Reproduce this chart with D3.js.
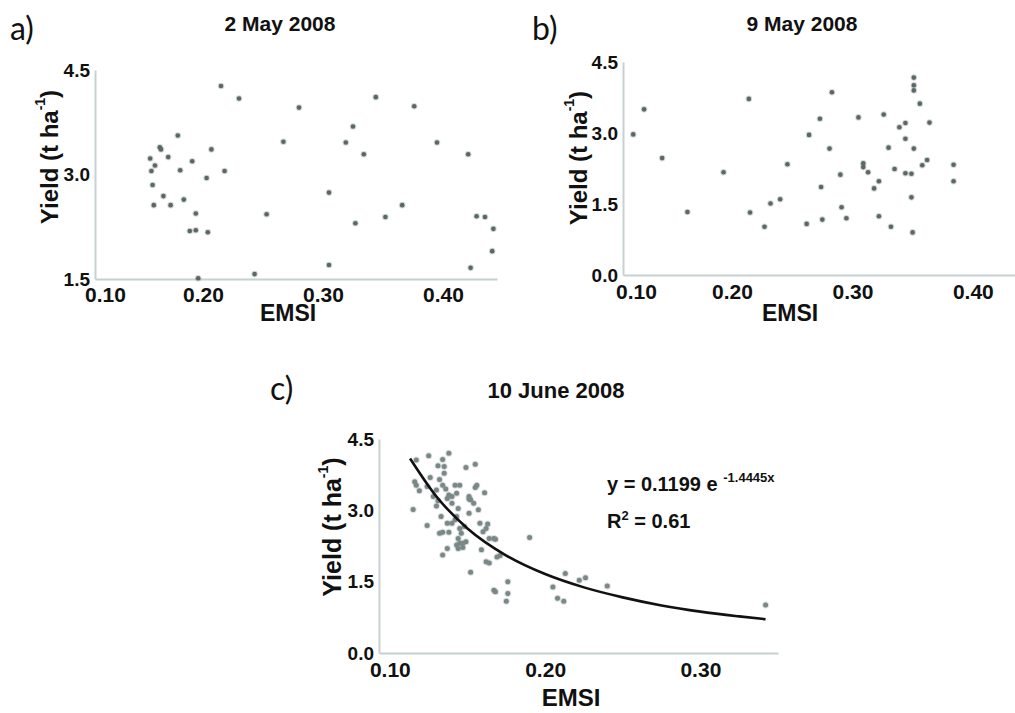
<!DOCTYPE html>
<html>
<head>
<meta charset="utf-8">
<script src="https://cdn.jsdelivr.net/npm/d3@7"></script>
<style>
  body { margin: 0; background: #fff; }
  svg { display: block; }
  text { font-family: "Liberation Sans", Arial, sans-serif; font-weight: bold; fill: #111; }
  .letter { font-family: Lato, "Open Sans", sans-serif; font-weight: normal; }
</style>
</head>
<body>
<svg id="chart" width="1015" height="713"></svg>
<script>
// panel a: 2 May 2008
const aEmsi = [0.215, 0.230, 0.280, 0.344, 0.376, 0.179, 0.164, 0.165, 0.207, 0.267, 0.319, 0.325, 0.395, 0.334, 0.421,
  0.156, 0.171, 0.160, 0.157, 0.181, 0.191, 0.203, 0.218, 0.158, 0.167, 0.159, 0.173, 0.184, 0.194, 0.253,
  0.305, 0.366, 0.327, 0.352, 0.428, 0.435, 0.442, 0.441, 0.189, 0.194, 0.204, 0.305, 0.423, 0.243, 0.196];
const aYield = [4.27, 4.09, 3.96, 4.11, 3.98, 3.56, 3.39, 3.36, 3.36, 3.47, 3.46, 3.69, 3.46, 3.29, 3.29,
  3.23, 3.25, 3.13, 3.05, 3.06, 3.19, 2.95, 3.05, 2.85, 2.69, 2.56, 2.56, 2.64, 2.44, 2.43,
  2.74, 2.56, 2.30, 2.39, 2.40, 2.39, 2.22, 1.90, 2.19, 2.20, 2.17, 1.70, 1.66, 1.57, 1.51];

// panel b: 9 May 2008
const bEmsi = [0.118, 0.127, 0.142, 0.163, 0.193, 0.214, 0.215, 0.227, 0.232, 0.240, 0.246, 0.262, 0.264, 0.273, 0.274,
  0.275, 0.281, 0.283, 0.290, 0.291, 0.295, 0.305, 0.309, 0.309, 0.313, 0.318, 0.322, 0.322, 0.326, 0.330,
  0.332, 0.335, 0.339, 0.344, 0.344, 0.344, 0.349, 0.349, 0.350, 0.351, 0.351, 0.351, 0.351, 0.356, 0.358,
  0.362, 0.364, 0.384, 0.384];
const bYield = [2.97, 3.50, 2.47, 1.33, 2.17, 3.72, 1.32, 1.02, 1.51, 1.60, 2.34, 1.08, 2.96, 3.30, 1.86,
  1.17, 2.67, 3.86, 2.12, 1.43, 1.20, 3.33, 2.36, 2.28, 2.17, 1.83, 1.98, 1.24, 3.39, 2.69,
  1.02, 2.24, 3.12, 3.21, 2.88, 2.15, 2.14, 1.64, 0.90, 4.17, 4.01, 3.90, 2.67, 3.62, 2.32,
  2.43, 3.22, 2.33, 1.98];

// panel c: 10 June 2008
const cEmsi = [0.117, 0.125, 0.134, 0.138, 0.135, 0.131, 0.149, 0.155, 0.135, 0.116, 0.117, 0.119, 0.124, 0.126, 0.130,
  0.132, 0.134, 0.136, 0.138, 0.140, 0.137, 0.142, 0.145, 0.143, 0.151, 0.152, 0.155, 0.156, 0.161, 0.115,
  0.124, 0.130, 0.133, 0.134, 0.137, 0.138, 0.140, 0.142, 0.144, 0.145, 0.146, 0.144, 0.145, 0.147, 0.144,
  0.149, 0.151, 0.151, 0.158, 0.159, 0.160, 0.163, 0.164, 0.162, 0.164, 0.168, 0.171, 0.134, 0.137, 0.152,
  0.167, 0.168, 0.176, 0.176, 0.175, 0.190, 0.205, 0.208, 0.212, 0.213, 0.222, 0.226, 0.240, 0.342,
  0.128, 0.131, 0.140, 0.143, 0.148, 0.154, 0.157, 0.132, 0.143, 0.147, 0.162, 0.167, 0.169];
const cYield = [4.06, 4.15, 4.07, 4.20, 3.92, 3.94, 3.90, 3.97, 3.78, 3.60, 3.53, 3.41, 3.50, 3.69, 3.43,
  3.65, 3.53, 3.45, 3.32, 3.29, 3.25, 3.53, 3.53, 3.36, 3.29, 3.22, 3.48, 3.53, 3.37, 3.02,
  2.68, 3.09, 2.87, 2.54, 2.73, 2.54, 2.73, 2.80, 3.04, 2.62, 2.52, 2.41, 2.31, 2.22, 2.20,
  2.34, 2.94, 3.24, 2.73, 2.17, 2.55, 2.71, 1.89, 1.92, 2.41, 2.39, 2.05, 2.06, 2.20, 1.70,
  1.32, 1.29, 1.50, 1.25, 1.09, 2.43, 1.39, 1.15, 1.09, 1.67, 1.53, 1.58, 1.41, 1.01,
  3.29, 3.20, 3.15, 2.87, 2.66, 3.15, 3.01, 2.52, 2.27, 2.31, 2.62, 2.41, 2.02];

// fitted curve of panel c
const trendEmsi = [0.113, 0.13, 0.15, 0.175, 0.2, 0.225, 0.25, 0.275, 0.3, 0.325, 0.342];
const trendYield = [4.09, 3.29, 2.62, 2.05, 1.66, 1.38, 1.17, 1.00, 0.87, 0.77, 0.71];

const xTicksAB = [0.10, 0.20, 0.30, 0.40];
const xTicksC = [0.10, 0.20, 0.30];
const yTicksA = [1.5, 3.0, 4.5];
const yTicksBC = [0.0, 1.5, 3.0, 4.5];

const svg = d3.select("#chart");
const axisColor = "#c6d1d1";

function drawPanel(p) {
  const x = d3.scaleLinear().domain(p.xDomain).range([p.left, p.right]).clamp(true);
  const y = d3.scaleLinear().domain(p.yDomain).range([p.bottom, p.top]);
  const g = svg.append("g");

  const yAx = g.append("g")
    .attr("transform", `translate(${p.left},0)`)
    .call(d3.axisLeft(y).tickValues(p.yTicks).tickFormat(d3.format(".1f")).tickSize(0).tickPadding(5));
  const xAx = g.append("g")
    .attr("transform", `translate(0,${p.bottom})`)
    .call(d3.axisBottom(x).tickValues(p.xTicks).tickFormat(d3.format(".2f")).tickSize(0).tickPadding(p.xPad));

  [yAx, xAx].forEach((ax) => {
    ax.attr("font-family", null).attr("font-size", null);
    ax.select(".domain").attr("stroke", axisColor).attr("stroke-width", 2);
  });
  yAx.selectAll("text").attr("font-size", 19).attr("fill", "#111");
  xAx.selectAll("text").attr("font-size", 21).attr("fill", "#111")
    .attr("x", (d) => Math.max(x(d), p.left + p.firstDx) - x(d));

  g.append("g")
    .selectAll("circle")
    .data(p.xs.map((v, i) => [v, p.ys[i]]))
    .enter()
    .append("circle")
    .attr("cx", (d) => x(d[0]))
    .attr("cy", (d) => y(d[1]))
    .attr("r", p.r)
    .attr("fill", p.dot)
    .attr("stroke", p.dot)
    .attr("stroke-opacity", 0.25)
    .attr("stroke-width", 2);

  if (p.trendX) {
    const line = d3.line().x((d) => x(d[0])).y((d) => y(d[1])).curve(d3.curveMonotoneX);
    g.append("path")
      .attr("d", line(p.trendX.map((v, i) => [v, p.trendY[i]])))
      .attr("fill", "none")
      .attr("stroke", "#111")
      .attr("stroke-width", 2.6);
  }

  g.append("text").attr("class", "letter").attr("x", p.letterX).attr("y", p.letterY)
    .attr("font-size", 32).text(p.letter);
  g.append("text").attr("x", p.titleX).attr("y", p.titleY).attr("text-anchor", "middle")
    .attr("font-size", p.titleSize).text(p.title);
  g.append("text").attr("x", p.emsiX).attr("y", p.emsiY).attr("text-anchor", "middle")
    .attr("font-size", p.emsiSize).text("EMSI");

  const yl = g.append("text")
    .attr("transform", `translate(${p.ylabX},${p.ylabY}) rotate(-90)`)
    .attr("text-anchor", "middle")
    .attr("dominant-baseline", "central")
    .attr("font-size", p.ylabSize);
  yl.append("tspan").text("Yield (t ha");
  yl.append("tspan").attr("font-size", 14).attr("dy", -9).text("-1");
  yl.append("tspan").attr("dy", 9).text(")");
  return { x, y, g };
}

drawPanel({
  letter: "a)", letterX: 10, letterY: 40,
  title: "2 May 2008", titleX: 280, titleY: 31, titleSize: 21,
  left: 95, right: 497, top: 70, bottom: 279,
  xDomain: [0.11, 0.445], yDomain: [1.5, 4.5],
  xTicks: xTicksAB, yTicks: yTicksA, xPad: 8, firstDx: 10,
  xs: aEmsi, ys: aYield, r: 2.3, dot: "#5c6868",
  emsiX: 288, emsiY: 321, emsiSize: 23, ylabX: 49, ylabY: 157, ylabSize: 24,
});

drawPanel({
  letter: "b)", letterX: 532, letterY: 40,
  title: "9 May 2008", titleX: 802, titleY: 31, titleSize: 21,
  left: 623, right: 1015, top: 62, bottom: 275,
  xDomain: [0.1095, 0.435], yDomain: [0, 4.5],
  xTicks: xTicksAB, yTicks: yTicksBC, xPad: 9, firstDx: 13,
  xs: bEmsi, ys: bYield, r: 2.3, dot: "#5c6868",
  emsiX: 790, emsiY: 321, emsiSize: 23, ylabX: 578, ylabY: 158, ylabSize: 24,
});

const pc = drawPanel({
  letter: "c)", letterX: 270, letterY: 400,
  title: "10 June 2008", titleX: 556, titleY: 398, titleSize: 22,
  left: 379, right: 778, top: 439, bottom: 653,
  xDomain: [0.093, 0.35], yDomain: [0, 4.5],
  xTicks: xTicksC, yTicks: yTicksBC, xPad: 9, firstDx: 10,
  xs: cEmsi, ys: cYield, r: 2.5, dot: "#7a8888",
  trendX: trendEmsi, trendY: trendYield,
  emsiX: 571, emsiY: 706, emsiSize: 24, ylabX: 332, ylabY: 527, ylabSize: 25,
});

const eq = pc.g.append("text").attr("x", 607).attr("y", 491).attr("font-size", 20);
eq.append("tspan").text("y = 0.1199 e ");
eq.append("tspan").attr("font-size", 13).attr("dy", -9).text("-1.4445x");
const r2 = pc.g.append("text").attr("x", 607).attr("y", 528).attr("font-size", 20);
r2.append("tspan").text("R");
r2.append("tspan").attr("font-size", 13).attr("dy", -8).text("2");
r2.append("tspan").attr("dy", 8).text(" = 0.61");
</script>
</body>
</html>
